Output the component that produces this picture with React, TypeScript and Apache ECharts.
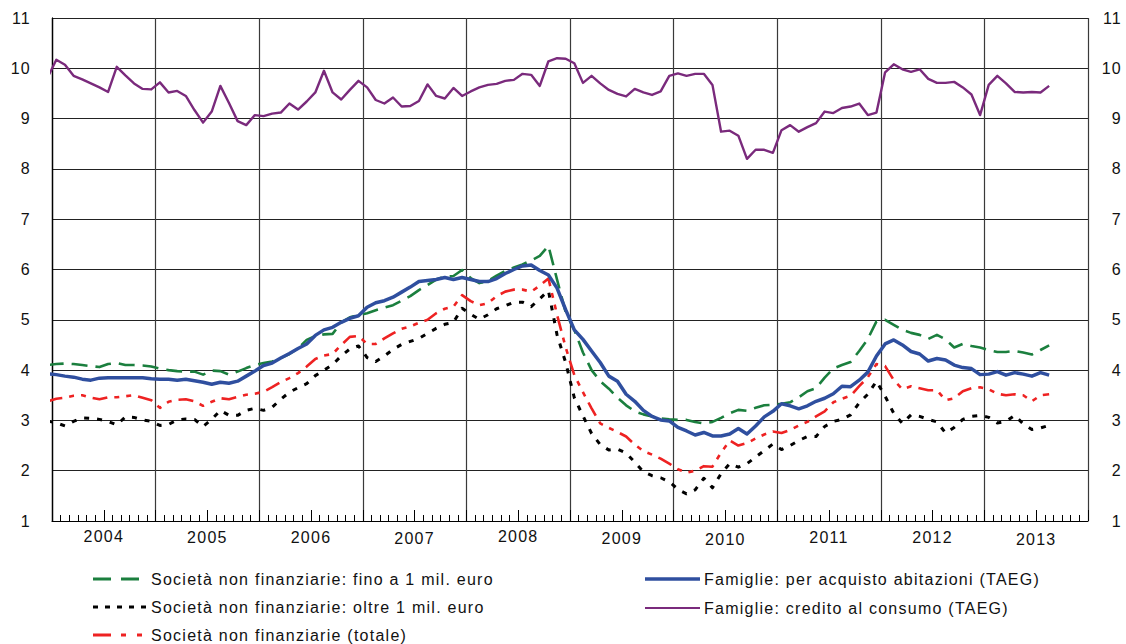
import React, { useEffect, useRef } from 'react';
import * as echarts from 'echarts';

// Monthly data; first value = Dec 2003, then Jan 2004 ... Aug 2013
const YEARS = ['2004', '2005', '2006', '2007', '2008', '2009', '2010', '2011', '2012', '2013'];

const snfFino1 = [
  4.10,
  4.12, 4.13, 4.12, 4.10, 4.08, 4.06, 4.12, 4.14, 4.10, 4.10, 4.09, 4.07,
  4.03, 4.00, 3.98, 3.97, 3.97, 3.91, 3.99, 3.98, 3.91, 3.97, 4.04, 4.10,
  4.14, 4.17, 4.24, 4.32, 4.43, 4.60, 4.68, 4.71, 4.72, 4.95, 5.05, 5.09,
  5.13, 5.19, 5.24, 5.29, 5.38, 5.47, 5.59, 5.69, 5.80, 5.86, 5.87, 5.99,
  5.83, 5.73, 5.77, 5.88, 5.97, 6.04, 6.10, 6.18, 6.27, 6.47, 5.80, 5.15,
  4.80, 4.35, 4.00, 3.78, 3.63, 3.45, 3.30, 3.18, 3.12, 3.08, 3.04, 3.02,
  3.01, 3.01, 2.97, 2.94, 2.97, 3.05, 3.14, 3.21, 3.19, 3.25, 3.30, 3.31,
  3.33, 3.36, 3.46, 3.58, 3.64, 3.85, 4.03, 4.10, 4.16, 4.38, 4.62, 4.97,
  5.00, 4.90, 4.80, 4.74, 4.70, 4.62, 4.70, 4.61, 4.45, 4.52, 4.48, 4.45,
  4.40, 4.36, 4.36, 4.38, 4.35, 4.31, 4.40, 4.49,
];

const snfOltre1 = [
  2.99,
  2.95, 2.89, 2.98, 3.05, 3.04, 3.02, 2.98, 2.91, 3.07, 3.06, 3.01, 2.98,
  2.90, 2.92, 3.01, 3.03, 3.02, 2.88, 3.02, 3.20, 3.10, 3.10, 3.20, 3.24,
  3.20, 3.26, 3.42, 3.56, 3.65, 3.73, 3.89, 4.00, 4.11, 4.28, 4.42, 4.48,
  4.25, 4.17, 4.28, 4.41, 4.51, 4.57, 4.63, 4.73, 4.83, 4.91, 4.95, 5.23,
  5.11, 5.01, 5.10, 5.22, 5.28, 5.35, 5.35, 5.26, 5.42, 5.58, 4.70, 4.15,
  3.45, 3.09, 2.74, 2.52, 2.41, 2.43, 2.35, 2.17, 1.98, 1.90, 1.86, 1.78,
  1.63, 1.54, 1.62, 1.85, 1.66, 1.94, 2.14, 2.07, 2.14, 2.27, 2.40, 2.53,
  2.42, 2.50, 2.60, 2.68, 2.68, 2.88, 2.98, 3.02, 3.11, 3.35, 3.52, 3.78,
  3.48, 3.14, 2.94, 3.11, 3.08, 3.02, 2.97, 2.75, 2.86, 3.02, 3.08, 3.10,
  3.06, 2.95, 2.98, 3.10, 2.93, 2.82, 2.85, 2.90,
];

const snfTotale = [
  3.38,
  3.43, 3.45, 3.49, 3.50, 3.45, 3.42, 3.46, 3.46, 3.48, 3.50, 3.45, 3.40,
  3.25, 3.37, 3.41, 3.42, 3.38, 3.29, 3.37, 3.44, 3.42, 3.47, 3.51, 3.53,
  3.57, 3.66, 3.76, 3.84, 3.94, 4.07, 4.22, 4.29, 4.32, 4.50, 4.66, 4.68,
  4.52, 4.52, 4.63, 4.73, 4.82, 4.87, 4.94, 5.00, 5.13, 5.22, 5.26, 5.49,
  5.37, 5.29, 5.33, 5.47, 5.56, 5.60, 5.60, 5.56, 5.68, 5.82, 5.10, 4.45,
  3.90, 3.56, 3.24, 2.94, 2.85, 2.77, 2.68, 2.52, 2.39, 2.32, 2.24, 2.14,
  2.03, 1.96, 2.00, 2.09, 2.08, 2.36, 2.60, 2.50, 2.55, 2.64, 2.72, 2.78,
  2.75, 2.81, 2.90, 2.97, 3.08, 3.18, 3.36, 3.43, 3.49, 3.68, 3.86, 4.12,
  4.08, 3.80, 3.62, 3.68, 3.64, 3.60, 3.60, 3.40, 3.44, 3.58, 3.64, 3.66,
  3.62, 3.53, 3.50, 3.52, 3.50, 3.38, 3.50, 3.52,
];

const famAbitazioni = [
  3.93,
  3.91, 3.88, 3.86, 3.82, 3.80, 3.84, 3.85, 3.85, 3.85, 3.85, 3.85, 3.83,
  3.82, 3.82, 3.80, 3.82, 3.79, 3.76, 3.72, 3.76, 3.74, 3.78, 3.88, 3.98,
  4.09, 4.14, 4.24, 4.33, 4.43, 4.52, 4.69, 4.80, 4.85, 4.95, 5.03, 5.08,
  5.25, 5.34, 5.38, 5.45, 5.55, 5.65, 5.76, 5.78, 5.80, 5.84, 5.80, 5.84,
  5.80, 5.76, 5.76, 5.82, 5.92, 6.00, 6.07, 6.09, 5.98, 5.89, 5.63, 5.20,
  4.80, 4.61, 4.38, 4.15, 3.88, 3.78, 3.52, 3.38, 3.20, 3.08, 3.01, 2.99,
  2.86, 2.79, 2.71, 2.76, 2.69, 2.69, 2.73, 2.84, 2.73, 2.89, 3.07, 3.18,
  3.33, 3.29, 3.23, 3.29, 3.38, 3.44, 3.53, 3.68, 3.67, 3.80, 3.96, 4.28,
  4.52, 4.60, 4.50, 4.37, 4.32, 4.18, 4.23, 4.20, 4.10, 4.05, 4.03, 3.91,
  3.92, 3.97, 3.90, 3.95, 3.92, 3.88, 3.95, 3.90,
];

const famConsumo = [
  9.82,
  10.17, 10.07, 9.85, 9.78, 9.70, 9.62, 9.53, 10.03, 9.86, 9.70, 9.59, 9.58,
  9.72, 9.52, 9.55, 9.45, 9.17, 8.92, 9.14, 9.65, 9.31, 8.95, 8.87, 9.07,
  9.05, 9.10, 9.12, 9.30, 9.18, 9.34, 9.52, 9.95, 9.52, 9.38, 9.57, 9.75,
  9.62, 9.37, 9.30, 9.42, 9.24, 9.25, 9.35, 9.68, 9.45, 9.40, 9.61, 9.45,
  9.54, 9.62, 9.67, 9.69, 9.75, 9.77, 9.89, 9.87, 9.65, 10.14, 10.20, 10.19,
  10.10, 9.71, 9.85, 9.70, 9.57, 9.49, 9.44, 9.59, 9.52, 9.47, 9.54, 9.85,
  9.90, 9.85, 9.89, 9.89, 9.67, 8.74, 8.76, 8.66, 8.20, 8.38, 8.38, 8.32,
  8.77, 8.87, 8.74, 8.83, 8.91, 9.14, 9.11, 9.21, 9.24, 9.30, 9.07, 9.12,
  9.92, 10.08, 9.98, 9.93, 9.98, 9.79, 9.71, 9.71, 9.73, 9.62, 9.48, 9.07,
  9.67, 9.85, 9.70, 9.53, 9.52, 9.53, 9.52, 9.65,
];

const NAMES = {
  fino: 'Società non finanziarie: fino a 1 mil. euro',
  oltre: 'Società non finanziarie: oltre 1 mil. euro',
  totale: 'Società non finanziarie (totale)',
  abit: 'Famiglie: per acquisto abitazioni (TAEG)',
  cons: 'Famiglie: credito al consumo (TAEG)',
};

const FONT = "'Liberation Sans', Arial, Helvetica, sans-serif";
const TEXT_COLOR = '#111';
const YEAR_OFFSETS = [1, 3, 3, 4, 0, 5, 6, 2, 2, 7];

// x = months since Jan 2004, points at mid-month; first point is Dec 2003
const toPoints = (arr: number[]) => arr.map((v, k) => [k - 0.5, v]);

const SERIES = [
  { name: NAMES.oltre, data: snfOltre1, color: '#000000', width: 3, dash: [5, 8] as any },
  { name: NAMES.totale, data: snfTotale, color: '#ee2222', width: 2.6, dash: [15, 7, 5, 7, 5, 7] as any },
  { name: NAMES.fino, data: snfFino1, color: '#1b7f3e', width: 2.6, dash: [16, 8] as any },
  { name: NAMES.abit, data: famAbitazioni, color: '#2f4f9f', width: 3.5, dash: 'solid' as any },
  { name: NAMES.cons, data: famConsumo, color: '#7a2a7c', width: 2.4, dash: 'solid' as any },
];

const LEGEND_LAYOUT = [
  { name: NAMES.fino, x1: 93, x2: 140, tx: 151, y: 579, dash: [18, 10], width: 3 },
  { name: NAMES.oltre, x1: 93, x2: 147, tx: 151, y: 607, dash: [5, 7], width: 3 },
  { name: NAMES.totale, x1: 93, x2: 143, tx: 151, y: 635, dash: [18, 10, 5, 11, 5, 99], width: 3 },
  { name: NAMES.abit, x1: 645, x2: 700, tx: 704, y: 579, dash: null, width: 3.5 },
  { name: NAMES.cons, x1: 645, x2: 700, tx: 704, y: 608, dash: null, width: 2 },
];

function buildOption() {
  const rich: any = {};
  YEAR_OFFSETS.forEach((off, k) => {
    rich['y' + k] = {
      fontSize: 16,
      fontFamily: FONT,
      color: TEXT_COLOR,
      lineHeight: 16,
      padding: [off, 0, 0, 0],
    };
  });

  const graphic: any[] = [];
  LEGEND_LAYOUT.forEach((l) => {
    const s = SERIES.find((x) => x.name === l.name)!;
    graphic.push({
      type: 'line',
      shape: { x1: l.x1, y1: l.y, x2: l.x2, y2: l.y },
      style: { stroke: s.color, lineWidth: l.width, lineDash: l.dash || undefined },
      silent: true,
    });
    graphic.push({
      type: 'text',
      x: l.tx,
      y: l.y,
      style: {
        text: s.name,
        fontSize: 16,
        fontFamily: FONT,
        fill: TEXT_COLOR,
        align: 'left',
        verticalAlign: 'middle',
      },
      silent: true,
    });
  });

  return {
    animation: false,
    backgroundColor: '#ffffff',
    grid: { left: 52, right: 38, top: 18, bottom: 123, containLabel: false },
    xAxis: [
      {
        type: 'value',
        min: 0,
        max: 120,
        interval: 12,
        position: 'bottom',
        axisLine: { show: true, lineStyle: { color: '#000', width: 1.2 } },
        axisTick: { show: true, inside: true, length: 6, lineStyle: { color: '#000' } },
        minorTick: { show: true, splitNumber: 12, length: 6, lineStyle: { color: '#000' } },
        axisLabel: { show: false },
        splitLine: { show: true, lineStyle: { color: '#3a3a3a', width: 1.2 } },
      },
      {
        type: 'value',
        min: 0,
        max: 120,
        interval: 6,
        position: 'bottom',
        axisLine: { show: false },
        axisTick: { show: true, inside: true, length: 11, lineStyle: { color: '#000' } },
        axisLabel: {
          show: true,
          margin: 7,
          showMinLabel: true,
          showMaxLabel: true,
          formatter: (v: number) => {
            const r = Math.round(v);
            if (r % 12 !== 6) return '';
            const k = (r - 6) / 12;
            return YEARS[k] ? `{y${k}|${YEARS[k]}}` : '';
          },
          rich,
        },
        splitLine: { show: false },
      },
    ],
    yAxis: [
      {
        type: 'value',
        min: 1,
        max: 11,
        interval: 1,
        position: 'left',
        axisLine: { show: true, lineStyle: { color: '#000', width: 1.2 } },
        axisTick: { show: false },
        axisLabel: { margin: 21, fontSize: 16, fontFamily: FONT, color: TEXT_COLOR },
        splitLine: { show: true, lineStyle: { color: '#222', width: 1.2 } },
      },
      {
        type: 'value',
        min: 1,
        max: 11,
        interval: 1,
        position: 'right',
        axisLine: { show: true, lineStyle: { color: '#000', width: 1.2 } },
        axisTick: { show: false },
        axisLabel: { margin: 34, align: 'right', fontSize: 16, fontFamily: FONT, color: TEXT_COLOR },
        splitLine: { show: false },
      },
    ],
    series: SERIES.map((s, i) => ({
      name: s.name,
      type: 'line',
      xAxisIndex: 0,
      yAxisIndex: 0,
      data: toPoints(s.data),
      showSymbol: false,
      symbol: 'none',
      clip: true,
      z: 2 + i,
      lineStyle: { color: s.color, width: s.width, type: s.dash, cap: 'butt', join: 'round' },
      emphasis: { disabled: true },
    })),
    graphic,
  };
}

export default function App() {
  const ref = useRef<HTMLDivElement>(null);
  useEffect(() => {
    if (!ref.current) return;
    const chart = echarts.init(ref.current, null, { renderer: 'svg' });
    chart.setOption(buildOption() as any);
    return () => {
      chart.dispose();
    };
  }, []);
  return (
    <div style={{ position: 'absolute', left: 0, top: 0, width: 1126, height: 644, background: '#fff' }}>
      <style>{`.chartbox text { letter-spacing: 1.25px; }`}</style>
      <div ref={ref} className="chartbox" style={{ width: 1126, height: 644 }} />
    </div>
  );
}
